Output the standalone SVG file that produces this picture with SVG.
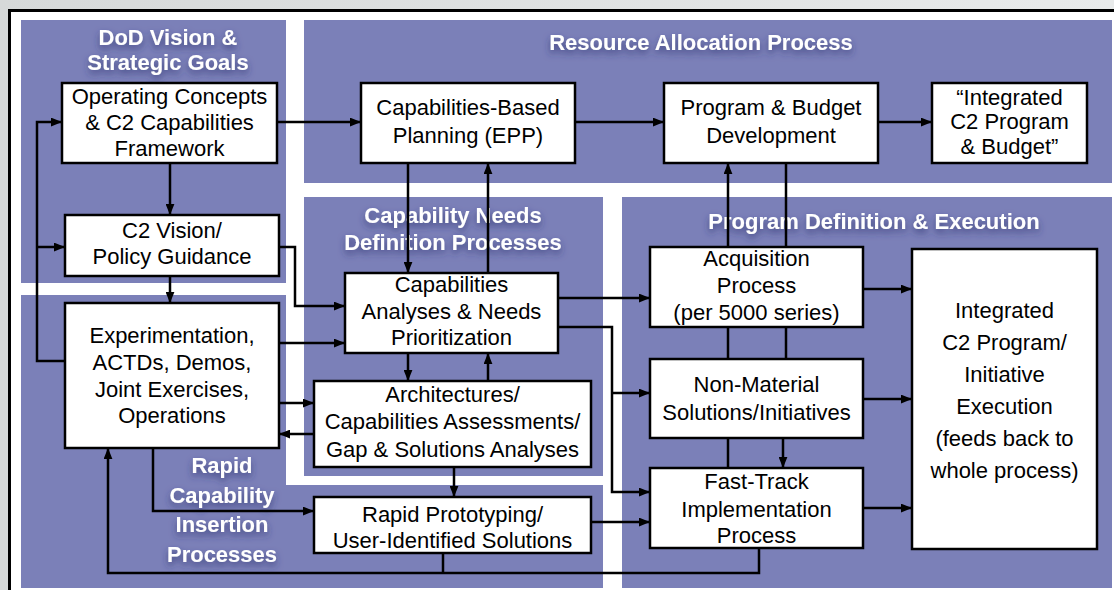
<svg xmlns="http://www.w3.org/2000/svg" width="1114" height="590" viewBox="0 0 1114 590">
<defs>
<marker id="ah" viewBox="0 0 10 8" refX="10" refY="4" markerWidth="11" markerHeight="9" markerUnits="userSpaceOnUse" orient="auto">
<path d="M0,0 L10,4 L0,8 z" fill="#000"/>
</marker>
<filter id="sh" x="-20%" y="-40%" width="140%" height="200%">
<feDropShadow dx="0" dy="4" stdDeviation="3.5" flood-color="#2e3070" flood-opacity="0.75"/>
</filter>
<linearGradient id="bg" x1="0" y1="0" x2="1" y2="0">
<stop offset="0" stop-color="#d6d9d9"/>
<stop offset="1" stop-color="#e8eaea"/>
</linearGradient>
</defs>
<style>
.panel{fill:#7b80b8}
.box{fill:#fff;stroke:#000;stroke-width:2.5}
.t{font-family:"Liberation Sans",Arial,Helvetica,sans-serif;font-size:22px;fill:#000;text-anchor:middle}
.h{font-family:"Liberation Sans",Arial,Helvetica,sans-serif;font-size:22px;font-weight:bold;fill:#fff;text-anchor:middle;filter:url(#sh)}
.c{fill:none;stroke:#000;stroke-width:2.5}
.a{marker-end:url(#ah)}
</style>
<rect x="0" y="0" width="1114" height="590" fill="url(#bg)"/>
<rect x="9.5" y="10.5" width="1110" height="590" fill="#fff" stroke="#000" stroke-width="3"/>

<g id="panels">
<rect id="panel-dod" class="panel" x="21" y="20" width="265" height="263"/>
<rect id="panel-resource" class="panel" x="304" y="20" width="808" height="163"/>
<rect id="panel-needs" class="panel" x="304" y="197" width="299" height="279"/>
<path id="panel-rapid" class="panel" d="M21,295 H286 V485 H603 V588 H21 Z"/>
<rect id="panel-program" class="panel" x="622" y="197" width="490" height="391"/>
</g>

<g id="titles">
<text class="h" x="168" y="45">DoD Vision &amp;</text>
<text class="h" x="168" y="70">Strategic Goals</text>
<text class="h" x="701" y="50">Resource Allocation Process</text>
<text class="h" x="453" y="223">Capability Needs</text>
<text class="h" x="453" y="250">Definition Processes</text>
<text class="h" x="874" y="229">Program Definition &amp; Execution</text>
<text class="h" x="222" y="473">Rapid</text>
<text class="h" x="222" y="503">Capability</text>
<text class="h" x="222" y="532">Insertion</text>
<text class="h" x="222" y="562">Processes</text>
</g>

<g id="connectors">
<path class="c a" d="M277,122 H361"/>
<path class="c a" d="M575,122 H664"/>
<path class="c a" d="M878,122 H932"/>
<path class="c a" d="M170,163 V215"/>
<path class="c a" d="M170,276 V303"/>
<path class="c a" d="M65,361 H37 V122 H62"/>
<path class="c a" d="M37,247 H65"/>
<path class="c a" d="M279,247 H295 V306 H345"/>
<path class="c a" d="M279,343 H345"/>
<path class="c a" d="M279,403 H314"/>
<path class="c a" d="M314,434 H279"/>
<path class="c a" d="M153,448 V511 H314"/>
<path class="c a" d="M759,548 V573 H108 V448"/>
<path class="c" d="M443,553 V573"/>
<path class="c a" d="M408,163 V273"/>
<path class="c a" d="M488,273 V163"/>
<path class="c a" d="M408,353 V381"/>
<path class="c a" d="M488,381 V353"/>
<path class="c a" d="M454,467 V497"/>
<path class="c a" d="M558,298 H650"/>
<path class="c a" d="M558,327 H612 V492 H650"/>
<path class="c a" d="M612,393 H650"/>
<path class="c a" d="M591,522 H650"/>
<path class="c a" d="M728,247 V163"/>
<path class="c" d="M786,163 V247"/>
<path class="c" d="M728,327 V359"/>
<path class="c" d="M786,327 V359"/>
<path class="c" d="M728,438 V468"/>
<path class="c a" d="M783,438 V468"/>
<path class="c a" d="M863,289 H912"/>
<path class="c a" d="M863,399 H912"/>
<path class="c a" d="M863,508 H912"/>
</g>

<g id="n-operating">
<rect class="box" x="62" y="83" width="215" height="80"/>
<text class="t" x="169.5" y="104">Operating Concepts</text>
<text class="t" x="169.5" y="130">&amp; C2 Capabilities</text>
<text class="t" x="169.5" y="156">Framework</text>
</g>
<g id="n-cbp">
<rect class="box" x="361" y="83" width="214" height="80"/>
<text class="t" x="468" y="115">Capabilities-Based</text>
<text class="t" x="468" y="143">Planning (EPP)</text>
</g>
<g id="n-pbd">
<rect class="box" x="664" y="83" width="214" height="80"/>
<text class="t" x="771" y="115">Program &amp; Budget</text>
<text class="t" x="771" y="143">Development</text>
</g>
<g id="n-icpb">
<rect class="box" x="932" y="83" width="155" height="80"/>
<text class="t" x="1009.5" y="105">“Integrated</text>
<text class="t" x="1009.5" y="129">C2 Program</text>
<text class="t" x="1009.5" y="154">&amp; Budget”</text>
</g>
<g id="n-vision">
<rect class="box" x="65" y="215" width="214" height="61"/>
<text class="t" x="172" y="238">C2 Vision/</text>
<text class="t" x="172" y="264">Policy Guidance</text>
</g>
<g id="n-exp">
<rect class="box" x="65" y="303" width="214" height="145"/>
<text class="t" x="172" y="343">Experimentation,</text>
<text class="t" x="172" y="370">ACTDs, Demos,</text>
<text class="t" x="172" y="397">Joint Exercises,</text>
<text class="t" x="172" y="423">Operations</text>
</g>
<g id="n-cap">
<rect class="box" x="345" y="273" width="213" height="80"/>
<text class="t" x="451.5" y="292">Capabilities</text>
<text class="t" x="451.5" y="319">Analyses &amp; Needs</text>
<text class="t" x="451.5" y="345">Prioritization</text>
</g>
<g id="n-arch">
<rect class="box" x="314" y="381" width="277" height="86"/>
<text class="t" x="452.5" y="402">Architectures/</text>
<text class="t" x="452.5" y="429">Capabilities Assessments/</text>
<text class="t" x="452.5" y="457">Gap &amp; Solutions Analyses</text>
</g>
<g id="n-rapid">
<rect class="box" x="314" y="497" width="277" height="56"/>
<text class="t" x="452.5" y="522">Rapid Prototyping/</text>
<text class="t" x="452.5" y="548">User-Identified Solutions</text>
</g>
<g id="n-acq">
<rect class="box" x="650" y="247" width="213" height="80"/>
<text class="t" x="756.5" y="266">Acquisition</text>
<text class="t" x="756.5" y="293">Process</text>
<text class="t" x="756.5" y="320">(per 5000 series)</text>
</g>
<g id="n-nonmat">
<rect class="box" x="650" y="359" width="213" height="79"/>
<text class="t" x="756.5" y="392">Non-Material</text>
<text class="t" x="756.5" y="420">Solutions/Initiatives</text>
</g>
<g id="n-fast">
<rect class="box" x="650" y="468" width="213" height="80"/>
<text class="t" x="756.5" y="489">Fast-Track</text>
<text class="t" x="756.5" y="517">Implementation</text>
<text class="t" x="756.5" y="543">Process</text>
</g>
<g id="n-exec">
<rect class="box" x="912" y="249" width="185" height="300"/>
<text class="t" x="1004.5" y="318">Integrated</text>
<text class="t" x="1004.5" y="350">C2 Program/</text>
<text class="t" x="1004.5" y="382">Initiative</text>
<text class="t" x="1004.5" y="414">Execution</text>
<text class="t" x="1004.5" y="446">(feeds back to</text>
<text class="t" x="1004.5" y="478">whole process)</text>
</g>
</svg>
